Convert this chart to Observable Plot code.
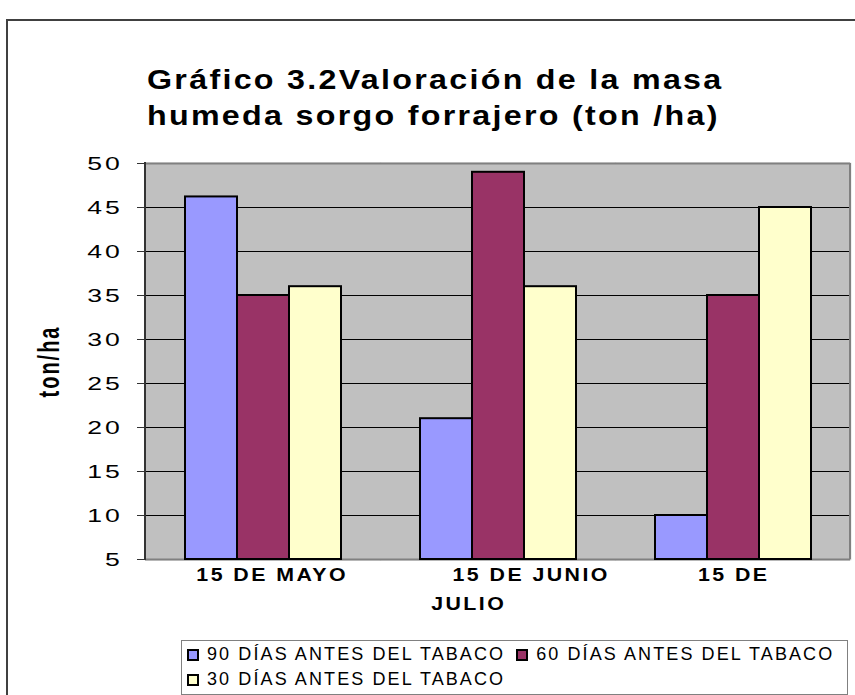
<!DOCTYPE html>
<html><head><meta charset="utf-8">
<script src="https://cdn.jsdelivr.net/npm/d3@7"></script>
<script src="https://cdn.jsdelivr.net/npm/@observablehq/plot@0.6"></script>
<style>
html,body{margin:0;padding:0;background:#fff;}
#wrap{position:relative;width:855px;height:695px;overflow:hidden;font-family:"Liberation Sans",Arial,sans-serif;background:#fff;}
#chart{position:absolute;left:0;top:0;}
#border{position:absolute;left:6px;top:19px;width:900px;height:800px;border:2px solid #404040;box-sizing:border-box;pointer-events:none;}
#title{position:absolute;left:147px;top:62px;font-weight:bold;font-size:28px;line-height:36px;letter-spacing:2px;color:#000;}
#title div{white-space:nowrap;transform:scaleX(1.15);transform-origin:0 0;}
#legend{position:absolute;left:181px;top:640px;width:667px;height:55px;box-sizing:border-box;border:1px solid #808080;padding:1px 0 0 5px;font-size:18px;letter-spacing:2.1px;line-height:25px;color:#000;background:#fff;}
.row{white-space:nowrap;height:25px;}
.item{display:inline-flex;align-items:center;margin-right:11px;white-space:nowrap;vertical-align:top;}
.sw{width:12px;height:12px;border:2px solid #000;box-sizing:border-box;margin-right:8px;flex:none;}
</style></head>
<body><div id="wrap"><div id="chart"></div><div id="border"></div><div id="title"></div><div id="legend"></div></div>
<script>
(function() {
const categories = ["15 DE MAYO", "15 DE JUNIO", "15 DE JULIO"];
const series = ["90 DÍAS ANTES DEL TABACO", "60 DÍAS ANTES DEL TABACO", "30 DÍAS ANTES DEL TABACO"];
const values90 = [46.2, 21, 10];
const values60 = [35, 49, 35];
const values30 = [36, 36, 45];
const colors = ["#9999FF", "#993366", "#FFFFCC"];
const yTicks = [5, 10, 15, 20, 25, 30, 35, 40, 45, 50];
const titleLines = ["Gráfico 3.2Valoración de la masa", "humeda sorgo forrajero (ton /ha)"];
const yLabel = "ton/ha";
const xLabelLine1 = ["15 DE MAYO", "15 DE JUNIO", "15 DE"];
const xLabelLine2 = ["", "", "JULIO"];
const legendRows = [[0, 1], [2]];

const rows = [];
[values90, values60, values30].forEach((vals, si) =>
  vals.forEach((v, ci) => rows.push({cat: categories[ci], series: series[si], value: v})));

const yMin = yTicks[0], yMax = yTicks[yTicks.length - 1];
const font = '"Liberation Sans", Arial, sans-serif';

function xlab(i, text, line, dx) {
  return Plot.text([{cat: categories[i], text}], {
    fx: "cat", text: "text", frameAnchor: "bottom",
    dx, dy: line === 0 ? 21.4 : 50.4,
    fontSize: 17.5, fontWeight: "bold", fill: "#000"
  });
}

const plot = Plot.plot({
  width: 855, height: 695,
  marginLeft: 145, marginRight: 5, marginTop: 163, marginBottom: 136,
  style: {fontFamily: font, background: "transparent", overflow: "visible", color: "#000"},
  fx: {domain: categories, padding: 0, axis: null, label: null},
  x: {domain: series, paddingInner: 0, paddingOuter: 0.738, axis: null},
  y: {domain: [yMin, yMax], axis: null},
  color: {domain: series, range: colors},
  marks: [
    Plot.frame({fill: "#C0C0C0", stroke: "#C0C0C0", strokeWidth: 1.5}),
    Plot.ruleY(yTicks.slice(1, -1), {stroke: "#000", strokeWidth: 1}),
    Plot.ruleY([yMax], {stroke: "#808080", strokeWidth: 2}),
    Plot.ruleY([yMin], {stroke: "#808080", strokeWidth: 2}),
    Plot.barY(rows, {fx: "cat", x: "series", y1: yMin, y2: "value", fill: "series", stroke: "#000", strokeWidth: 2}),
    Plot.axisY({ticks: yTicks, tickSize: 8, tickPadding: 15, fontSize: 19, color: "#000", stroke: "#333", label: null}),
    xlab(0, xLabelLine1[0], 0, 9.2),
    xlab(1, xLabelLine1[1], 0, 33.2),
    xlab(2, xLabelLine1[2], 0, 0.7),
    xlab(2, xLabelLine2[2], 1, -264.3),
    Plot.text([{cat: categories[0], text: yLabel}], {
      fx: "cat", text: "text", frameAnchor: "left", rotate: -90, dx: -87,
      textAnchor: "middle", lineAnchor: "bottom", fontSize: 20, fontWeight: "bold", fill: "#000"
    })
  ]
});

document.getElementById("chart").appendChild(plot);
const svgEl = plot.tagName.toLowerCase() === "svg" ? plot : plot.querySelector("svg");
const svg = d3.select(svgEl);

function stretch(match, sx, sy, ls) {
  svg.selectAll("text").filter(function() { return match(this.textContent); }).each(function() {
    let t = this.getAttribute("transform");
    if (!t) {
      const x = parseFloat(this.getAttribute("x")) || 0;
      const y = parseFloat(this.getAttribute("y")) || 0;
      this.removeAttribute("x"); this.removeAttribute("y");
      t = `translate(${x},${y})`;
    }
    this.setAttribute("transform", `${t} scale(${sx},${sy})`);
    this.style.letterSpacing = ls + "px";
  });
}
const tickStrings = yTicks.map(String);
const xStrings = xLabelLine1.concat(xLabelLine2).filter(d => d);
stretch(s => tickStrings.includes(s), 1.4, 1, 2);
stretch(s => xStrings.includes(s), 1.22, 1, 2);
stretch(s => s === yLabel, 1, 1.45, 2);

const fxs = plot.scale("fx"), ys = plot.scale("y");
const xLeft = fxs.apply(categories[0]);
const xRight = fxs.apply(categories[categories.length - 1]) + fxs.bandwidth;
const yTop = ys.apply(yMax), yBottom = ys.apply(yMin);
svg.append("line").attr("x1", xRight).attr("x2", xRight).attr("y1", yTop).attr("y2", yBottom)
  .attr("stroke", "#808080").attr("stroke-width", 2);
svg.append("line").attr("x1", xLeft).attr("x2", xLeft).attr("y1", yTop - 1).attr("y2", yBottom + 1)
  .attr("stroke", "#333").attr("stroke-width", 2);

const title = document.getElementById("title");
titleLines.forEach(l => { const d = document.createElement("div"); d.textContent = l; title.appendChild(d); });

const legend = document.getElementById("legend");
legendRows.forEach(r => {
  const row = document.createElement("div"); row.className = "row";
  r.forEach(i => {
    const it = document.createElement("span"); it.className = "item";
    const sw = document.createElement("span"); sw.className = "sw"; sw.style.background = colors[i];
    const tx = document.createElement("span"); tx.textContent = series[i];
    it.appendChild(sw); it.appendChild(tx); row.appendChild(it);
  });
  legend.appendChild(row);
});
})();
</script></body></html>
